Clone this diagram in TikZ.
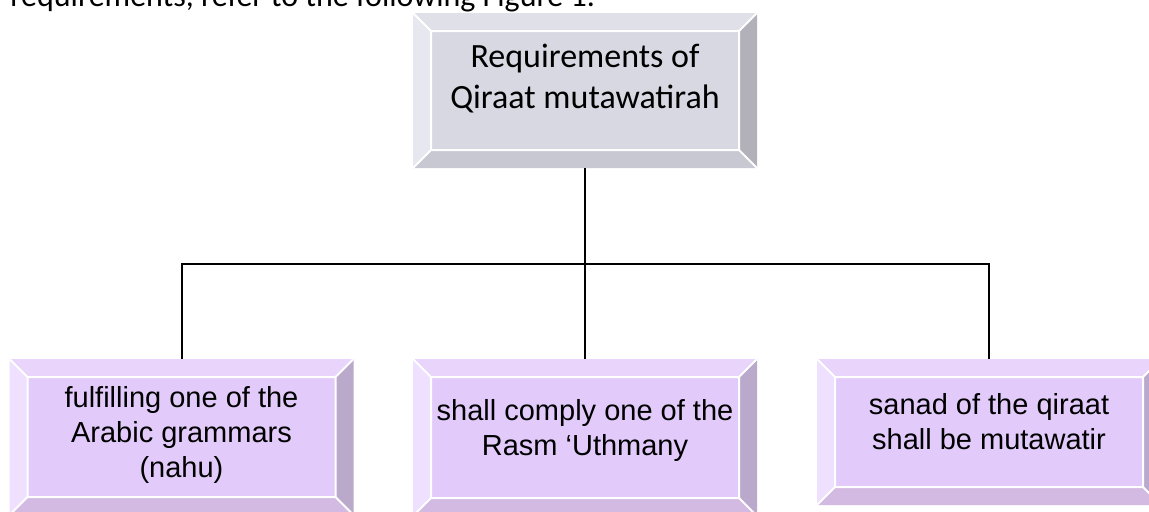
\documentclass[tikz,border=0pt]{standalone}
\usepackage{fontspec}
\setmainfont{Carlito}
\newfontfamily\arialfont{Liberation Sans}
\usetikzlibrary{positioning}

\definecolor{grayface}{HTML}{D8D8E2}
\definecolor{graytop}{HTML}{E0E0E9}
\definecolor{grayleft}{HTML}{E7E7EF}
\definecolor{grayright}{HTML}{B2B1BA}
\definecolor{graybot}{HTML}{C8C8D2}
\definecolor{lilface}{HTML}{E2CBFA}
\definecolor{liltop}{HTML}{E9D5FC}
\definecolor{lilleft}{HTML}{EEE0FE}
\definecolor{lilright}{HTML}{BBA9CC}
\definecolor{lilbot}{HTML}{D2BAE2}

\newlength{\bw}
\setlength{\bw}{9pt}

\tikzset{bevelbox/.style={minimum width=172pt, inner sep=0pt,
                          path picture={
      \path (path picture bounding box.north west) coordinate (o1)
            (path picture bounding box.south east) coordinate (o3)
            ([shift={(\bw,-\bw)}]path picture bounding box.north west) coordinate (i1)
            ([shift={(-\bw,\bw)}]path picture bounding box.south east) coordinate (i3);
      \fill[#1top] (o1) -- (o1 -| o3) -- (i1 -| i3) -- (i1) -- cycle;
      \fill[#1left] (o1) -- (i1) -- (i1 |- i3) -- (o1 |- o3) -- cycle;
      \fill[#1right] (o1 -| o3) -- (o3) -- (i3) -- (i1 -| i3) -- cycle;
      \fill[#1bot] (o1 |- o3) -- (i1 |- i3) -- (i3) -- (o3) -- cycle;
      \fill[#1face] (i1) rectangle (i3);
      \draw[white, line width=1pt] (i1) rectangle (i3)
            (o1) -- (i1) (o1 -| o3) -- (i1 -| i3)
            (o3) -- (i3) (o1 |- o3) -- (i1 |- i3);}},
        toptext/.style={align=center, font=\fontsize{17}{20.5}\selectfont},
        subtext/.style={align=center, font=\arialfont\fontsize{14.5}{17.5}\selectfont},
        conn/.style={draw=black, line width=1pt}}

\begin{document}
\begin{tikzpicture}[x=0.5pt, y=-0.5pt]
  \useasboundingbox (0,0) rectangle (1149,511);
  \clip (0,0) rectangle (1149,511);

  \node[anchor=base west, inner sep=0pt, font=\fontsize{16}{19}\selectfont] (intro) at (10,6)
       {requirements, refer to the following Figure 1.};

  \node[bevelbox=gray, minimum height=77.5pt] (req) at (585,90.5) {};
  \node[toptext] (req-t) at ([yshift=5.75pt]req.center)
       {Requirements of\\Qiraat mutawatirah};

  \node[bevelbox=lil, minimum height=78pt] (nahu) at (181.5,437) {};
  \node[subtext] (nahu-t) at ([yshift=1.25pt]nahu.center)
       {fulfilling one of the\\Arabic grammars\\(nahu)};

  \node[bevelbox=lil, minimum height=78.5pt] (rasm) at (585,437.5) {};
  \node[subtext] (rasm-t) at ([yshift=3.75pt]rasm.center)
       {shall comply one of the\\Rasm ‘Uthmany};

  \node[bevelbox=lil, minimum height=73pt] (sanad) at (989,432) {};
  \node[subtext] (sanad-t) at ([yshift=5pt]sanad.center)
       {sanad of the qiraat\\shall be mutawatir};

  \coordinate (split) at (585,264);
  \draw[conn] (req.south) -- (rasm.north);
  \draw[conn] (nahu.north) |- (split) -| (sanad.north);
\end{tikzpicture}
\end{document}
